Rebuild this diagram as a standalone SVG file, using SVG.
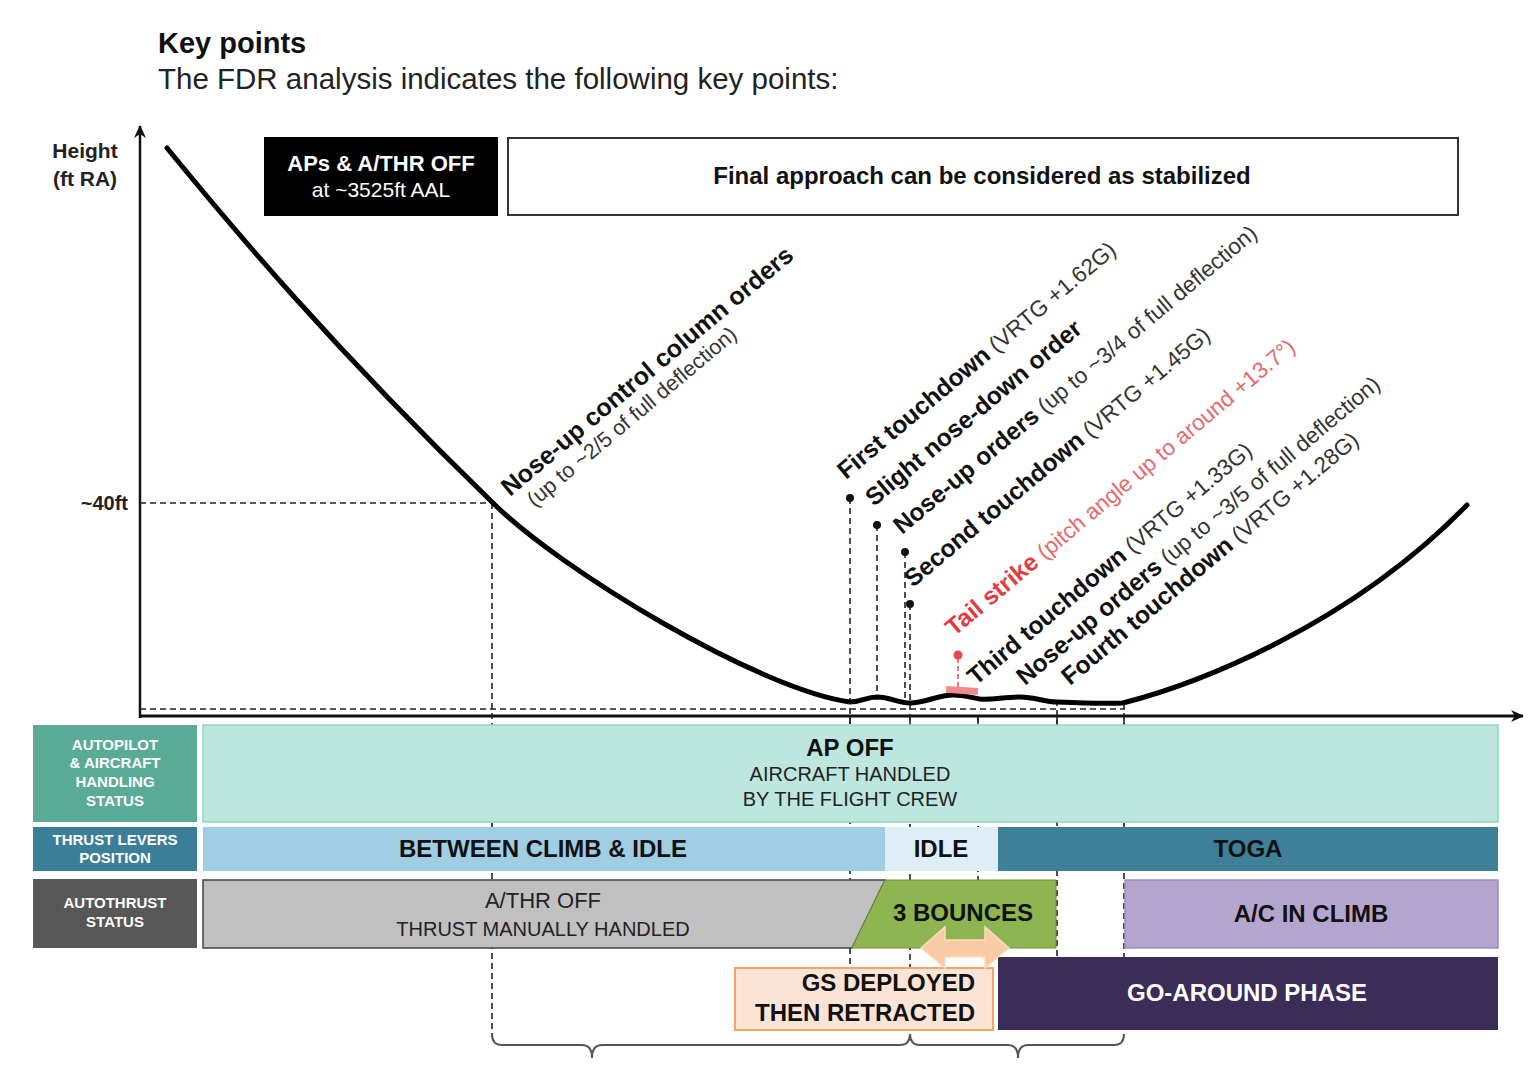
<svg xmlns="http://www.w3.org/2000/svg" width="1538" height="1066" viewBox="0 0 1538 1066">
<style>
text{font-family:"Liberation Sans",Arial,sans-serif;}
.b{font-weight:bold;}
.dash{fill:none;stroke:#222;stroke-width:1.6;stroke-dasharray:6 4;}
.lbl{font-size:24.5px;font-weight:bold;fill:#111;}
.sub{font-size:22.5px;font-weight:normal;fill:#333;}
.hdr{font-size:15px;font-weight:bold;fill:#fff;text-anchor:middle;}
.band{font-size:24px;font-weight:bold;fill:#111;text-anchor:middle;}
.dot{fill:#111;}
</style>
<defs>
<marker id="ah" markerWidth="14" markerHeight="14" refX="12" refY="7" orient="auto" markerUnits="userSpaceOnUse">
<path d="M0,1 L13,7 L0,13 L4,7 Z" fill="#111"/>
</marker>
</defs>
<rect width="1538" height="1066" fill="#fff"/>

<g id="title">
<text x="158" y="53" class="b" style="font-size:29px" fill="#111">Key points</text>
<text x="158" y="89" style="font-size:29.5px" fill="#222">The FDR analysis indicates the following key points:</text>
</g>

<g id="axes">
<line x1="140" y1="718" x2="140" y2="126" stroke="#111" stroke-width="2.5" marker-end="url(#ah)"/>
<line x1="139" y1="716" x2="1523" y2="716" stroke="#111" stroke-width="3" marker-end="url(#ah)"/>
<text x="85" y="158" class="b" style="font-size:21px" text-anchor="middle" fill="#222">Height</text>
<text x="85" y="186" class="b" style="font-size:21px" text-anchor="middle" fill="#222">(ft RA)</text>
<text x="128" y="510" class="b" style="font-size:20px" text-anchor="end" fill="#222">~40ft</text>
<g stroke="#111" stroke-width="1.5">
<line x1="850" y1="716" x2="850" y2="724"/>
<line x1="910" y1="716" x2="910" y2="724"/>
<line x1="978" y1="716" x2="978" y2="724"/>
<line x1="1057" y1="716" x2="1057" y2="724"/>
<line x1="1124" y1="716" x2="1124" y2="724"/>
</g>
</g>

<g id="connectors">
<path class="dash" d="M140,503 H492"/>
<path class="dash" d="M140,709 H1125"/>
<path class="dash" d="M492,503 V1036"/>
<path class="dash" d="M850,498 V968"/>
<path class="dash" d="M877,525 V700"/>
<path class="dash" d="M905,552 V703"/>
<path class="dash" d="M910,604 V1038"/>
<path class="dash" d="M978,716 V880"/>
<path class="dash" d="M1057,700 V958"/>
<path class="dash" d="M1124,703 V958"/>
<path d="M958,658 V687" fill="none" stroke="#e8575a" stroke-width="1.6" stroke-dasharray="5 3"/>
<path d="M492,1034 Q492,1045 502,1045 H582 Q592,1045 592,1058 Q592,1045 602,1045 H900 Q910,1045 910,1034 Q910,1045 920,1045 H1008 Q1018,1045 1018,1058 Q1018,1045 1028,1045 H1114 Q1124,1045 1124,1034" fill="none" stroke="#555" stroke-width="2"/>
</g>

<g id="curve">
<path d="M167,148 C230,225 330,345 492,502 C560,570 760,690 850,702 C862,702 866,697 877,697 C890,697 898,703 910,703 C925,703 938,695 953,695 C965,695 972,698 980,699 C990,700 1005,697 1020,697 C1035,697 1045,702 1057,702 C1080,703 1105,704 1123,703 C1200,683 1350,625 1467,505" fill="none" stroke="#000" stroke-width="5" stroke-linecap="round" stroke-linejoin="round"/>
</g>

<g id="node-aps-off">
<rect x="264" y="137" width="234" height="79" fill="#000"/>
<text x="381" y="171" class="b" style="font-size:22px" fill="#fff" text-anchor="middle">APs &amp; A/THR OFF</text>
<text x="381" y="197" style="font-size:21px" fill="#fff" text-anchor="middle">at ~3525ft AAL</text>
</g>

<g id="node-stabilized">
<rect x="508" y="138" width="950" height="77" fill="#fff" stroke="#333" stroke-width="2"/>
<text x="982" y="184" class="b" style="font-size:24px" fill="#111" text-anchor="middle">Final approach can be considered as stabilized</text>
</g>

<g id="label-noseup-column" transform="translate(510,497) rotate(-40)">
<text x="0" y="0" class="lbl" style="font-size:25px">Nose-up control column orders</text>
<text x="12" y="24" class="sub" style="font-size:21.5px">(up to ~2/5 of full deflection)</text>
</g>

<g id="marker-dots">
<circle class="dot" cx="850" cy="498" r="4"/>
<circle class="dot" cx="877" cy="525" r="4"/>
<circle class="dot" cx="905" cy="552" r="4"/>
<circle class="dot" cx="910" cy="604" r="4"/>
<circle cx="958" cy="655" r="4.5" fill="#e8474b"/>
<rect x="946" y="687" width="32" height="7" fill="#f08a8c" transform="rotate(4 962 690)"/>
</g>

<g id="label-first-td" transform="translate(846,480) rotate(-40)">
<text class="lbl">First touchdown<tspan class="sub"> (VRTG +1.62G)</tspan></text>
</g>
<g id="label-slight-nd" transform="translate(874,507) rotate(-40)">
<text class="lbl">Slight nose-down order</text>
</g>
<g id="label-noseup-34" transform="translate(902,535) rotate(-40)">
<text class="lbl">Nose-up orders<tspan class="sub"> (up to ~3/4 of full deflection)</tspan></text>
</g>
<g id="label-second-td" transform="translate(913,588) rotate(-40)">
<text class="lbl">Second touchdown<tspan class="sub"> (VRTG +1.45G)</tspan></text>
</g>
<g id="label-tailstrike" transform="translate(954,637) rotate(-40)">
<text class="lbl" style="fill:#e23c40">Tail strike<tspan class="sub" style="fill:#e8686b"> (pitch angle up to around +13.7°)</tspan></text>
</g>
<g id="label-third-td" transform="translate(976,686) rotate(-40)">
<text class="lbl">Third touchdown<tspan class="sub"> (VRTG +1.33G)</tspan></text>
</g>
<g id="label-noseup-35" transform="translate(1025,686) rotate(-40)">
<text class="lbl">Nose-up orders<tspan class="sub"> (up to ~3/5 of full deflection)</tspan></text>
</g>
<g id="label-fourth-td" transform="translate(1070,686) rotate(-40)">
<text class="lbl">Fourth touchdown<tspan class="sub"> (VRTG +1.28G)</tspan></text>
</g>

<g id="row-autopilot">
<rect x="33" y="725" width="164" height="97" fill="#5aab95"/>
<text class="hdr" x="115" y="750">AUTOPILOT</text>
<text class="hdr" x="115" y="768">&amp; AIRCRAFT</text>
<text class="hdr" x="115" y="787">HANDLING</text>
<text class="hdr" x="115" y="806">STATUS</text>
<rect x="203" y="725" width="1295" height="97" fill="#bde7de" stroke="#8ed6c3" stroke-width="1.5"/>
<text x="850" y="756" class="band">AP OFF</text>
<text x="850" y="781" style="font-size:20px" fill="#222" text-anchor="middle">AIRCRAFT HANDLED</text>
<text x="850" y="806" style="font-size:20px" fill="#222" text-anchor="middle">BY THE FLIGHT CREW</text>
</g>

<g id="row-thrust-levers">
<rect x="33" y="827" width="164" height="44" fill="#3b7e98"/>
<text class="hdr" x="115" y="845">THRUST LEVERS</text>
<text class="hdr" x="115" y="863">POSITION</text>
<rect x="203" y="827" width="682" height="44" fill="#9fcde2"/>
<text x="543" y="857" class="band">BETWEEN CLIMB &amp; IDLE</text>
<rect x="885" y="827" width="113" height="44" fill="#ddeef6"/>
<text x="941" y="857" class="band">IDLE</text>
<rect x="998" y="827" width="500" height="44" fill="#3e8099"/>
<text x="1248" y="857" class="band">TOGA</text>
</g>

<g id="row-autothrust">
<rect x="33" y="879" width="164" height="69" fill="#575757"/>
<text class="hdr" x="115" y="908">AUTOTHRUST</text>
<text class="hdr" x="115" y="927">STATUS</text>
<polygon points="203,880 885,880 852,948 203,948" fill="#c0c0c0" stroke="#444" stroke-width="1.5"/>
<text x="543" y="908" style="font-size:22px" fill="#222" text-anchor="middle">A/THR OFF</text>
<text x="543" y="936" style="font-size:20px" fill="#222" text-anchor="middle">THRUST MANUALLY HANDLED</text>
<polygon points="885,880 1056,880 1056,948 852,948" fill="#8db651" stroke="#6e8f40" stroke-width="1"/>
<text x="963" y="921" class="band">3 BOUNCES</text>
<rect x="1125" y="880" width="373" height="68" fill="#b4a5cf" stroke="#9d8dc0" stroke-width="1.5"/>
<text x="1311" y="922" class="band">A/C IN CLIMB</text>
</g>

<g id="node-goaround">
<rect x="998" y="957" width="500" height="73" fill="#3b2c58"/>
<text x="1247" y="1001" class="band" style="fill:#fff">GO-AROUND PHASE</text>
</g>

<g id="node-gs">
<rect x="735" y="968" width="258" height="62" fill="#fce4d4" stroke="#f2a46a" stroke-width="2"/>
<text x="975" y="991" class="b" style="font-size:24px" fill="#111" text-anchor="end">GS DEPLOYED</text>
<text x="975" y="1021" class="b" style="font-size:24px" fill="#111" text-anchor="end">THEN RETRACTED</text>
</g>

<g id="node-double-arrow">
<polygon points="921,948 945,927 945,940 985,940 985,927 1009,948 985,968 985,957 945,957 945,968" fill="#f9caa3" stroke="#fcdcc4" stroke-width="1.5"/>
</g>
</svg>
